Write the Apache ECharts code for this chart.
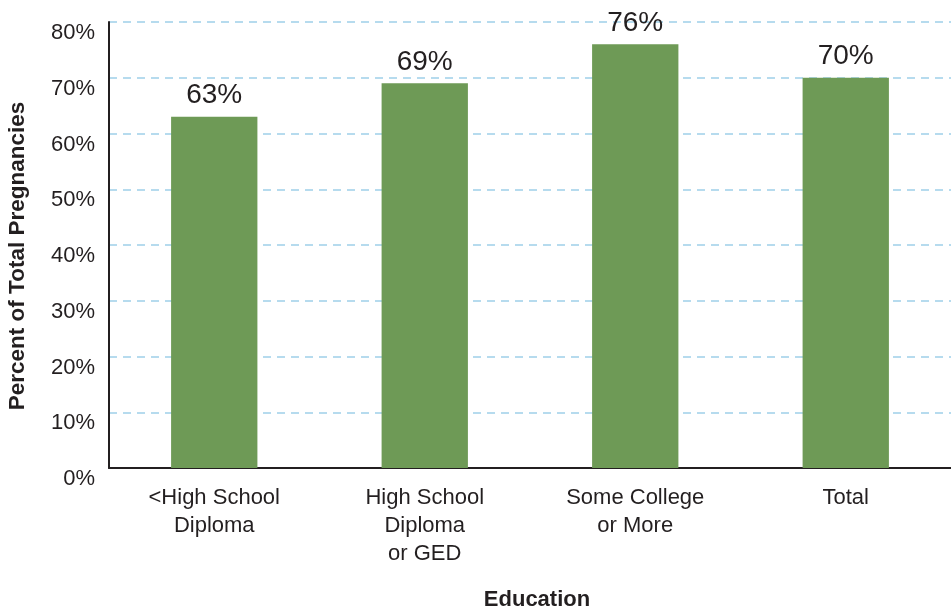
<!DOCTYPE html>
<html>
<head>
<meta charset="utf-8">
<script src="https://cdn.jsdelivr.net/npm/echarts@6/dist/echarts.min.js"></script>
<style>html,body{margin:0;padding:0;background:#fff;overflow:hidden}#c{width:951px;height:611px}</style>
</head>
<body>
<div id="c"></div>
<script>
const categories = ['<High School\nDiploma', 'High School\nDiploma\nor GED', 'Some College\nor More', 'Total'];
const values = [63, 69, 76, 70];
const yTicks = [0, 10, 20, 30, 40, 50, 60, 70, 80];

const chart = echarts.init(document.getElementById('c'), null, {renderer: 'canvas'});
const font = '"Liberation Sans", Arial, Helvetica, sans-serif';
chart.setOption({
  animation: false,
  grid: {left: 109, right: 0, top: 22, bottom: 143, containLabel: false, outerBoundsMode: 'none'},
  xAxis: {
    type: 'category',
    data: categories,
    name: 'Education',
    nameLocation: 'middle',
    nameGap: 121,
    nameTextStyle: {fontFamily: font, fontSize: 22, fontWeight: 'bold', color: '#231f20', padding: [0, 0, 0, 14]},
    axisLine: {lineStyle: {color: '#231f20', width: 2}},
    axisTick: {show: false},
    axisLabel: {fontFamily: font, fontSize: 22, color: '#231f20', lineHeight: 28, margin: 16, interval: 0}
  },
  yAxis: {
    type: 'value',
    min: yTicks[0],
    max: yTicks[yTicks.length - 1],
    interval: 10,
    name: 'Percent of Total Pregnancies',
    nameLocation: 'middle',
    nameGap: 80,
    nameTextStyle: {fontFamily: font, fontSize: 22.5, fontWeight: 'bold', color: '#231f20', padding: [0, 22, 0, 0]},
    axisLine: {show: true, lineStyle: {color: '#231f20', width: 2}},
    axisTick: {show: false},
    axisLabel: {fontFamily: font, fontSize: 22, color: '#231f20', margin: 14, verticalAlign: 'top', formatter: '{value}%'},
    splitLine: {show: true, lineStyle: {color: '#b6dbee', width: 2, type: [8, 6]}}
  },
  series: [{
    type: 'bar',
    data: values,
    barWidth: '41%',
    itemStyle: {color: '#6e9a56'},
    label: {show: true, position: 'top', distance: 7, formatter: '{c}%', fontFamily: font, fontSize: 28, color: '#231f20'}
  }]
});
</script>
</body>
</html>
